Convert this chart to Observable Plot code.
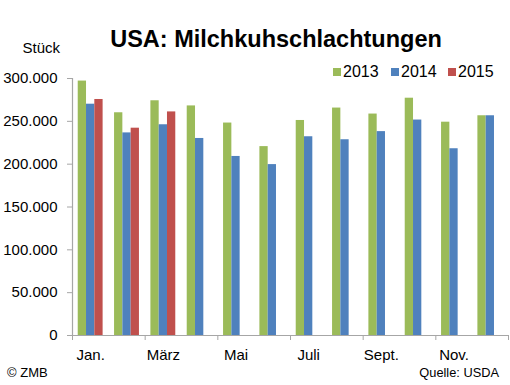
<!DOCTYPE html>
<html>
<head>
<meta charset="utf-8">
<script src="https://cdn.jsdelivr.net/npm/d3@7"></script>
<script src="https://cdn.jsdelivr.net/npm/@observablehq/plot@0.6"></script>
<style>
  html, body { margin: 0; padding: 0; background: #fff; }
  #wrap { position: relative; width: 510px; height: 385px; overflow: hidden; font-family: "Liberation Sans", Arial, sans-serif; color: #000; }
  .t { position: absolute; line-height: 1; white-space: nowrap; }
  .sw { position: absolute; width: 8px; height: 8px; }
</style>
</head>
<body>
<div id="wrap"></div>
<script>
const months = ["Jan.","Feb.","März","Apr.","Mai","Juni","Juli","Aug.","Sept.","Okt.","Nov.","Dez."];
const years = ["2013","2014","2015"];
const colors = ["#9BBB59","#4F81BD","#C0504D"];
const v2013 = [297000,260000,274000,268000,248000,220500,251000,265500,258500,277000,249000,256500];
const v2014 = [270000,236500,246000,230000,209000,199500,232000,228500,238000,251500,218000,256500];
const v2015 = [275500,242000,261000];
const yTicks = [0,50000,100000,150000,200000,250000,300000];
const labelMonths = [0,2,4,6,8,10];

const series = [v2013, v2014, v2015];
const rows = [];
series.forEach((vals, k) => vals.forEach((v, i) => rows.push({i, k, year: years[k], value: v})));

const gap = 0.315;               // share of the month slot left empty
const bw = (1 - gap) / 3;        // bar width in month units

const de = d3.formatLocale({decimal: ",", thousands: ".", grouping: [3], currency: ["", "€"]});
const fmt = de.format(",d");
const axisGray = "#a6a6a6";

const chart = Plot.plot({
  width: 510,
  height: 385,
  marginLeft: 72,
  marginRight: 2,
  marginTop: 78,
  marginBottom: 50,
  style: {fontFamily: "'Liberation Sans', Arial, sans-serif", fontSize: "15px", color: "#000", background: "transparent"},
  x: {type: "linear", domain: [0, 12]},
  y: {domain: [0, 300000]},
  color: {domain: years, range: colors},
  marks: [
    Plot.rectY(rows, {
      x1: d => d.i + gap / 2 + d.k * bw,
      x2: d => d.i + gap / 2 + (d.k + 1) * bw,
      y1: 0,
      y2: "value",
      fill: "year"
    }),
    Plot.ruleY([0], {stroke: axisGray, strokeWidth: 1.2}),
    Plot.ruleX([0], {y1: 0, y2: 300000, stroke: axisGray, strokeWidth: 1.2}),
    Plot.axisY({ticks: yTicks, tickFormat: fmt, tickSize: 5, tickPadding: 10, stroke: axisGray, fill: "#000", label: null, fontSize: 15}),
    Plot.axisX({ticks: [0,2,4,6,8,10,12], tickFormat: () => "", tickSize: 5, stroke: axisGray, label: null}),
    Plot.axisX({ticks: labelMonths.map(i => i + 0.5), tickFormat: t => months[Math.round(t - 0.5)], tickSize: 0, tickPadding: 14, fill: "#000", label: null, fontSize: 15})
  ]
});

const wrap = document.getElementById("wrap");
wrap.appendChild(chart);
chart.style.position = "absolute";
chart.style.left = "0px";
chart.style.top = "0px";

function addText(txt, css) {
  const d = document.createElement("div");
  d.className = "t";
  d.textContent = txt;
  Object.assign(d.style, css);
  wrap.appendChild(d);
  return d;
}
addText("USA: Milchkuhschlachtungen", {left: "276px", top: "27.5px", fontSize: "23.5px", fontWeight: "bold", transform: "translateX(-50%)"});
addText("Stück", {left: "22.5px", top: "39.6px", fontSize: "15px"});
const legendX = [333, 391, 448];
years.forEach((y, k) => {
  const s = document.createElement("div");
  s.className = "sw";
  Object.assign(s.style, {left: legendX[k] + "px", top: "67.5px", background: colors[k]});
  wrap.appendChild(s);
  addText(y, {left: (legendX[k] + 10) + "px", top: "63.8px", fontSize: "16px"});
});
addText("© ZMB", {left: "7px", top: "366.3px", fontSize: "13px"});
addText("Quelle: USDA", {right: "11px", top: "367.3px", fontSize: "12.8px"});
</script>
</body>
</html>
